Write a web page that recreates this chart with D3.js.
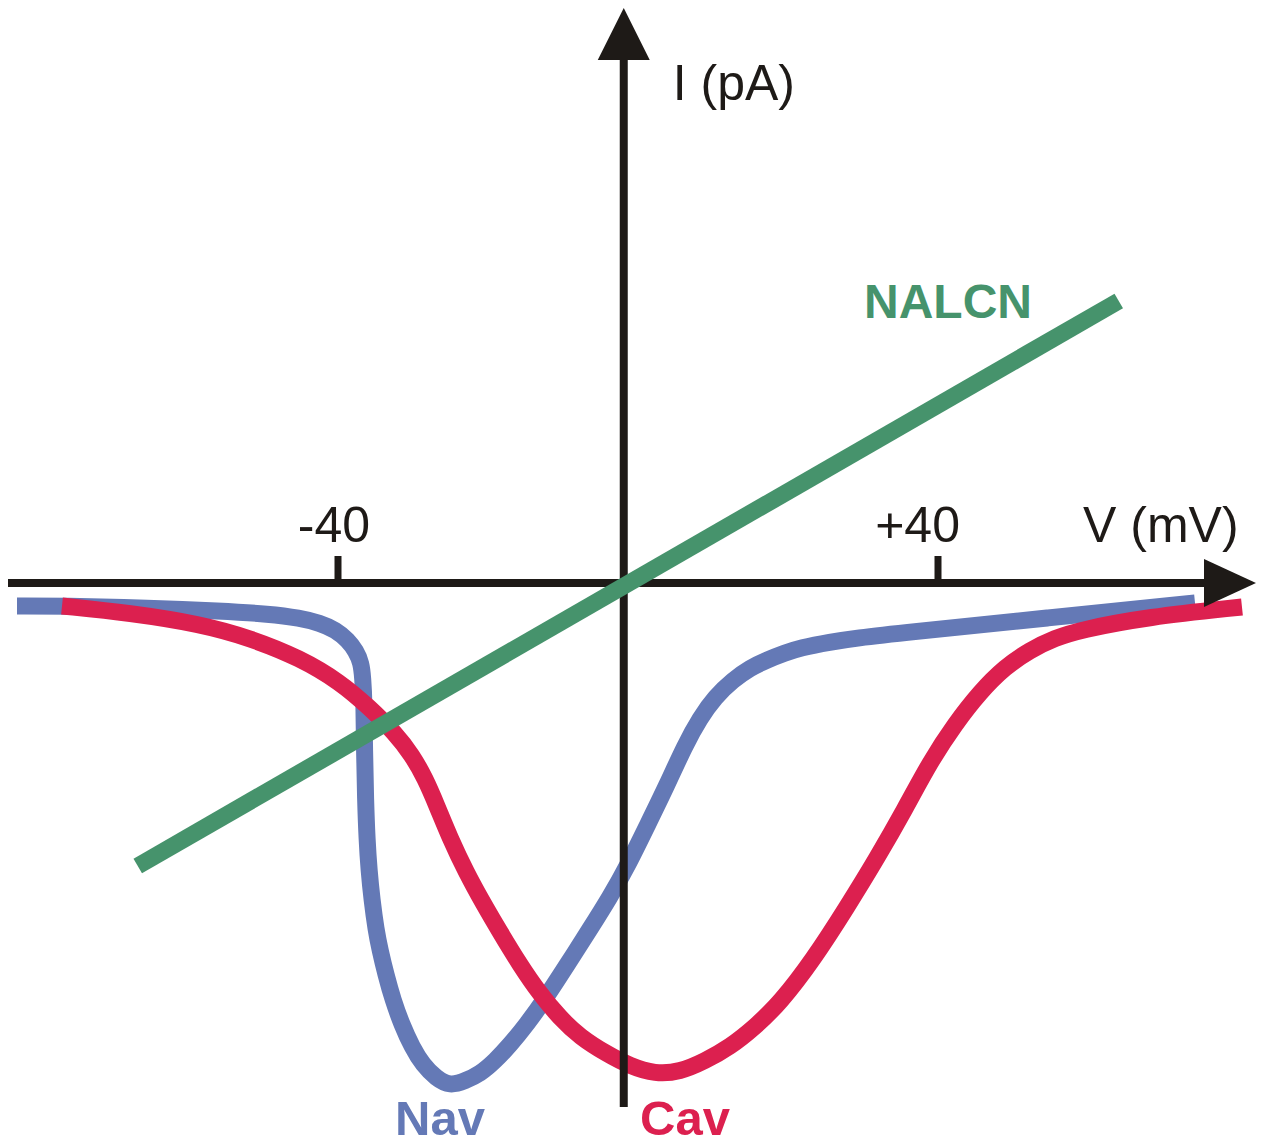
<!DOCTYPE html>
<html>
<head>
<meta charset="utf-8">
<script src="https://cdn.jsdelivr.net/npm/d3@7"></script>
<style>
  html, body { margin: 0; padding: 0; background: #fff; }
  svg { display: block; }
</style>
</head>
<body>
<svg id="chart" width="1269" height="1146"></svg>
<script>
// Membrane voltage (mV) and current (pA) for each channel's I–V relation
const navV = [-82.8, -76.8, -65.1, -55.7, -49.1, -45.1, -42.4, -40.3, -38.7, -37.6, -36.9, -36.7, -36.53, -36.47, -36.33, -36.13, -35.87, -35.47, -34.93, -34.4, -33.6, -32.67, -31.47, -30.13, -28.67, -26.93, -25.07, -23.07, -21.07, -19.07, -17.07, -14.8, -12.4, -9.47, -6.4, -3.73, -1.47, 1.2, 3.87, 6.27, 8.27, 10.27, 12.67, 14.93, 17.2, 19.6, 21.6, 25.6, 29.2, 34.93, 54.53, 74.27];
const navI = [-23, -23, -25, -28, -31, -35, -40, -47, -57, -68, -80, -95, -117, -167, -217, -257, -287, -317, -347, -367, -392, -417, -442, -464, -482, -495, -503, -498, -491, -478, -462, -441, -416, -382, -346, -314, -284, -243, -202, -162, -135, -114, -97, -85, -77, -70, -65, -59, -55, -50, -35, -20];

const cavV = [-76.8, -67.73, -58.4, -51.73, -45.07, -39.73, -35.73, -32.4, -30.13, -28.4, -26.8, -25.07, -22.93, -20.67, -18.4, -15.73, -13.07, -10.4, -7.73, -4.13, -1.07, 2.27, 5.6, 8.93, 12.27, 15.6, 18.93, 23.33, 27.87, 31.87, 35.6, 38.93, 42.27, 45.6, 48.93, 52.27, 55.6, 58.93, 67.87, 80.53];
const cavI = [-23, -30, -41, -55, -75, -99, -125, -150, -172, -195, -223, -255, -289, -320, -349, -382, -411, -435, -454, -471, -483, -491, -489, -478, -464, -444, -420, -377, -324, -275, -226, -179, -141, -109, -84, -67, -55, -47, -34, -24];

const nalcnV = [-66.7, 64.1];
const nalcnI = [-283, 282];

// Axis ticks and labels
const tickValues = [-40, 40];
const tickLabels = ["-40", "+40"];
const xAxisTitle = "V (mV)";
const yAxisTitle = "I (pA)";
const seriesNames = ["Nav", "Cav", "NALCN"];

const colors = { Nav: "#6479B6", Cav: "#DC204F", NALCN: "#46936C", axis: "#1E1A17" };

const svg = d3.select("#chart");

const x = d3.scaleLinear().domain([-40, 40]).range([338, 938]);
const y = d3.scaleLinear().domain([-500, 500]).range([1083, 83]);

// the vertical axis sits at the drawn origin of the plot
const originV = -1.9;
const ox = x(originV);
const oy = y(0);

const line = d3.line()
  .x(d => x(d[0]))
  .y(d => y(d[1]))
  .curve(d3.curveBasis);

const zip = (a, b) => a.map((v, i) => [v, b[i]]);

// Nav
svg.append("path")
  .datum(zip(navV, navI))
  .attr("d", line)
  .attr("fill", "none")
  .attr("stroke", colors.Nav)
  .attr("stroke-width", 17)
  .attr("stroke-linecap", "butt");

// Cav
svg.append("path")
  .datum(zip(cavV, cavI))
  .attr("d", line)
  .attr("fill", "none")
  .attr("stroke", colors.Cav)
  .attr("stroke-width", 17)
  .attr("stroke-linecap", "butt");

// Axes
const axisG = svg.append("g").attr("fill", colors.axis).attr("stroke", colors.axis);

axisG.append("line")
  .attr("x1", 8).attr("x2", 1208)
  .attr("y1", oy).attr("y2", oy)
  .attr("stroke-width", 8);
axisG.append("path")
  .attr("stroke", "none")
  .attr("d", `M${1256},${oy} L${1204},${oy - 24} L${1204},${oy + 24} Z`);

axisG.append("line")
  .attr("x1", ox).attr("x2", ox)
  .attr("y1", 1107).attr("y2", 56)
  .attr("stroke-width", 8);
axisG.append("path")
  .attr("stroke", "none")
  .attr("d", `M${ox},${8} L${ox + 26},${60} L${ox - 26},${60} Z`);

// Ticks
axisG.selectAll("line.tick")
  .data(tickValues)
  .join("line")
  .attr("class", "tick")
  .attr("x1", d => x(d)).attr("x2", d => x(d))
  .attr("y1", oy - 27).attr("y2", oy)
  .attr("stroke-width", 7);

const textFont = "'Liberation Sans', Arial, sans-serif";
const tickLabelShift = [32, 22];

svg.selectAll("text.ticklabel")
  .data(tickValues)
  .join("text")
  .attr("class", "ticklabel")
  .attr("x", (d, i) => x(d) + tickLabelShift[i])
  .attr("y", oy - 41)
  .attr("text-anchor", "end")
  .attr("font-family", textFont)
  .attr("font-size", 50)
  .attr("fill", colors.axis)
  .text((d, i) => tickLabels[i]);

svg.append("text")
  .attr("x", 1083).attr("y", oy - 41)
  .attr("font-family", textFont)
  .attr("font-size", 50)
  .attr("fill", colors.axis)
  .text(xAxisTitle);

svg.append("text")
  .attr("x", ox + 49).attr("y", 100)
  .attr("font-family", textFont)
  .attr("font-size", 50)
  .attr("fill", colors.axis)
  .text(yAxisTitle);

// NALCN
svg.append("path")
  .datum(zip(nalcnV, nalcnI))
  .attr("d", d3.line().x(d => x(d[0])).y(d => y(d[1])))
  .attr("fill", "none")
  .attr("stroke", colors.NALCN)
  .attr("stroke-width", 17)
  .attr("stroke-linecap", "butt");

// Series labels
const seriesLabels = [
  { name: seriesNames[0], x: 395, y: 1135, size: 49 },
  { name: seriesNames[1], x: 640, y: 1135, size: 49 },
  { name: seriesNames[2], x: 864, y: 318, size: 48 }
];
svg.selectAll("text.series")
  .data(seriesLabels)
  .join("text")
  .attr("class", "series")
  .attr("x", d => d.x)
  .attr("y", d => d.y)
  .attr("font-family", textFont)
  .attr("font-weight", "bold")
  .attr("font-size", d => d.size)
  .attr("fill", d => colors[d.name])
  .text(d => d.name);
</script>
</body>
</html>
